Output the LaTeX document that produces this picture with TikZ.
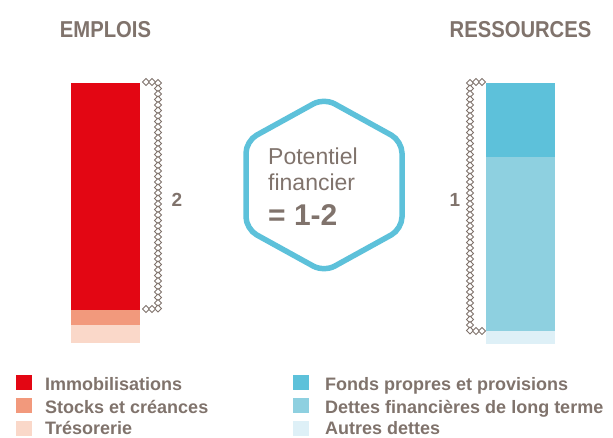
\documentclass[tikz,border=0pt]{standalone}
\usepackage{fontspec}
\setmainfont{Liberation Sans}
\newfontfamily\headfont[FakeStretch=0.88]{Liberation Sans}

\definecolor{txtgray}{RGB}{128,115,108}
\definecolor{chaingray}{RGB}{128,115,108}
\definecolor{immored}{RGB}{227,6,19}
\definecolor{stocksalmon}{RGB}{242,153,124}
\definecolor{tresopeach}{RGB}{250,216,201}
\definecolor{fondsblue}{RGB}{93,193,218}
\definecolor{dettesblue}{RGB}{142,208,224}
\definecolor{autresblue}{RGB}{222,240,247}

\tikzset{
  heading/.style={anchor=base, inner sep=0pt, text=txtgray,
    font=\headfont\fontsize{23}{23}\selectfont\bfseries},
  key/.style={anchor=base west, inner sep=0pt, text=txtgray,
    font=\fontsize{18}{18}\selectfont\bfseries},
  hextext/.style={anchor=base west, inner sep=0pt, text=txtgray,
    font=\fontsize{23}{23}\selectfont},
  swatch/.style={minimum width=16pt, minimum height=15pt, inner sep=0pt,
    anchor=north west},
  link/.pic={\draw[chaingray, fill=white, line width=0.9pt]
    (0,-3.5) -- (3.5,0) -- (0,3.5) -- (-3.5,0) -- cycle;}
}

\begin{document}
\begin{tikzpicture}[x=1pt,y=-1pt]
\useasboundingbox (0,0) rectangle (613,437);
% Headings
\node[heading] (emplois) at (105.5,37) {EMPLOIS};
\node[heading] (ressources) at (520.5,37) {RESSOURCES};
% Draw left column
\fill[immored] (71,83) rectangle (140,310);
\fill[stocksalmon] (71,310) rectangle (140,325);
\fill[tresopeach] (71,325) rectangle (140,343);
% Draw right column
\fill[fondsblue] (486,83) rectangle (555,157);
\fill[dettesblue] (486,157) rectangle (555,331);
\fill[autresblue] (486,331) rectangle (555,344);
% Chain brace on the left column
\foreach \i in {0,...,41} \pic at (158,83+5.5*\i) {link};
\foreach \x in {146,152} {
  \pic at (\x,82) {link};
  \pic at (\x,309) {link};
}
\node[anchor=center, text=txtgray, font=\fontsize{19}{19}\selectfont\bfseries]
  (two) at (177,200) {2};
% Chain brace on the right column
\foreach \i in {0,...,45} \pic at (470,83+5.5*\i) {link};
\foreach \x in {476,482} {
  \pic at (\x,82) {link};
  \pic at (\x,331) {link};
}
\node[anchor=center, text=txtgray, font=\fontsize{19}{19}\selectfont\bfseries]
  (one) at (455,200) {1};
% Draw hexagon
\draw[fondsblue, line width=5.5pt, rounded corners=12pt]
  (324,98) -- (402,141) -- (402,229) -- (324,272) -- (246,229) -- (246,141) -- cycle;
\node[hextext] (pot) at (268,164) {Potentiel};
\node[hextext] (fin) at (268,190) {financier};
\node[hextext, font=\fontsize{30}{30}\selectfont\bfseries] (ratio) at (268,225) {= 1-2};
% Legend
\node[swatch, fill=immored] (k1) at (16,375) {};
\node[swatch, fill=stocksalmon] (k2) at (16,398) {};
\node[swatch, fill=tresopeach] (k3) at (16,421) {};
\node[key] (l1) at (45,390) {Immobilisations};
\node[key] (l2) at (45,413) {Stocks et créances};
\node[key] (l3) at (45,434) {Trésorerie};
\node[swatch, fill=fondsblue] (k4) at (293,375) {};
\node[swatch, fill=dettesblue] (k5) at (293,398) {};
\node[swatch, fill=autresblue] (k6) at (293,421) {};
\node[key] (l4) at (325,390) {Fonds propres et provisions};
\node[key] (l5) at (325,413) {Dettes financières de long terme};
\node[key] (l6) at (325,434) {Autres dettes};
\end{tikzpicture}
\end{document}
